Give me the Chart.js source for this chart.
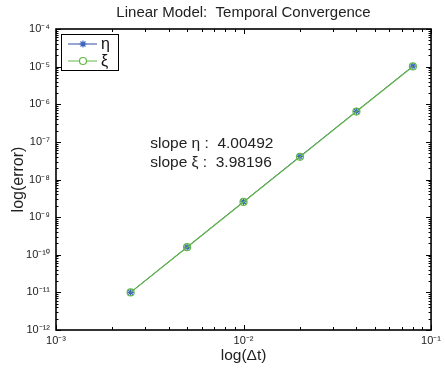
<!DOCTYPE html>
<html>
<head>
<meta charset="utf-8">
<script src="https://cdn.jsdelivr.net/npm/chart.js@4/dist/chart.umd.min.js"></script>
<style>
  html, body { margin: 0; padding: 0; background: #fff; }
  #wrap { width: 445px; height: 370px; }
</style>
</head>
<body>
<div id="wrap"><canvas id="chart" width="445" height="370"></canvas></div>
<script>
// Data
const timeSteps = [0.0025, 0.005, 0.01, 0.02, 0.04, 0.08];
const etaError = [1.0e-11, 1.6e-10, 2.56e-9, 4.1e-8, 6.5e-7, 1.03e-5];
const xiError = [1.0e-11, 1.59e-10, 2.53e-9, 4.0e-8, 6.4e-7, 1.01e-5];
const seriesNames = ['η', 'ξ'];
const slopeLabels = ['slope η :  4.00492', 'slope ξ :  3.98196'];
const chartTitle = 'Linear Model:  Temporal Convergence';
const xRange = [1e-3, 1e-1];
const yRange = [1e-12, 1e-4];

const BLUE = '#2f4f9f';
const GREEN = '#62b846';
const FONT = '"Liberation Sans", Arial, Helvetica, sans-serif';

const sup = { '-': '⁻', '0': '⁰', '1': '¹', '2': '²', '3': '³', '4': '⁴', '5': '⁵', '6': '⁶', '7': '⁷', '8': '⁸', '9': '⁹' };
function powLabel(v) {
  const e = Math.round(Math.log10(v));
  return '10' + String(e).split('').map(c => sup[c]).join('');
}

function decadeTicks(scale) {
  const ticks = [];
  for (let e = Math.round(Math.log10(scale.min)); e <= Math.round(Math.log10(scale.max)); e++) {
    ticks.push({ value: Math.pow(10, e) });
  }
  scale.ticks = ticks;
}

// MATLAB style box with inward ticks, plus title, legend and slope text
const matlabAxes = {
  id: 'matlabAxes',
  afterDatasetsDraw(chart) {
    const { ctx, chartArea: a, scales } = chart;
    const x = scales.x, y = scales.y;
    ctx.save();
    ctx.strokeStyle = '#000';
    ctx.lineWidth = 1;

    // ticks
    const xe0 = Math.round(Math.log10(x.min)), xe1 = Math.round(Math.log10(x.max));
    for (let e = xe0; e <= xe1; e++) {
      for (let m = 1; m <= 9; m++) {
        const v = m * Math.pow(10, e);
        if (v > x.max * 1.0001) break;
        const px = Math.round(x.getPixelForValue(v)) + 0.5;
        const len = m === 1 ? 5 : 3;
        ctx.beginPath();
        ctx.moveTo(px, a.bottom); ctx.lineTo(px, a.bottom - len);
        ctx.moveTo(px, a.top); ctx.lineTo(px, a.top + len);
        ctx.stroke();
      }
    }
    const ye0 = Math.round(Math.log10(y.min)), ye1 = Math.round(Math.log10(y.max));
    for (let e = ye0; e <= ye1; e++) {
      for (let m = 1; m <= 9; m++) {
        const v = m * Math.pow(10, e);
        if (v > y.max * 1.0001) break;
        const py = Math.round(y.getPixelForValue(v)) + 0.5;
        const len = m === 1 ? 5 : 2.5;
        ctx.beginPath();
        ctx.moveTo(a.left, py); ctx.lineTo(a.left + len, py);
        ctx.moveTo(a.right, py); ctx.lineTo(a.right - len, py);
        ctx.stroke();
      }
    }

    // box
    ctx.lineWidth = 1.6;
    ctx.strokeRect(a.left, a.top, a.right - a.left, a.bottom - a.top);

    // title, centred over the axes like MATLAB does
    ctx.fillStyle = '#222';
    ctx.font = '15px ' + FONT;
    ctx.textAlign = 'center';
    ctx.textBaseline = 'middle';
    ctx.fillText(chartTitle, (a.left + a.right) / 2, 13);

    // slope annotation
    ctx.font = '15.5px ' + FONT;
    ctx.textAlign = 'left';
    const tx = x.getPixelForValue(0.00318);
    const ty = y.getPixelForValue(Math.pow(10, -7.05));
    ctx.fillText(slopeLabels[0], tx, ty);
    ctx.fillText(slopeLabels[1], tx, ty + 19);

    // legend
    const lx = a.left + 5, ly = a.top + 5, lw = 57, lh = 36;
    ctx.fillStyle = '#fff';
    ctx.fillRect(lx, ly, lw, lh);
    ctx.lineWidth = 1;
    ctx.strokeStyle = '#000';
    ctx.strokeRect(lx + 0.5, ly + 0.5, lw, lh);
    chart.data.datasets.forEach((ds, i) => {
      const cy = ly + 10 + i * 17;
      ctx.strokeStyle = ds.borderColor;
      ctx.lineWidth = 1;
      ctx.beginPath();
      ctx.moveTo(lx + 7, cy); ctx.lineTo(lx + 36, cy);
      ctx.stroke();
      ctx.strokeStyle = ds.pointBorderColor || ds.borderColor;
      ctx.fillStyle = '#fff';
      ctx.lineWidth = ds.pointBorderWidth;
      Chart.helpers.drawPoint(ctx, {
        pointStyle: ds.pointStyle, radius: ds.pointRadius, borderWidth: ds.pointBorderWidth, rotation: 0
      }, lx + 22, cy);
      ctx.fillStyle = '#111';
      ctx.font = '16px ' + FONT;
      ctx.textAlign = 'left';
      ctx.fillText(ds.label, lx + 40, cy + 1);
    });
    ctx.restore();
  }
};

function drawChart() {
  const ctx = document.getElementById('chart').getContext('2d');
  new Chart(ctx, {
    type: 'line',
    data: {
      datasets: [
        {
          label: seriesNames[0],
          data: timeSteps.map((t, i) => ({ x: t, y: etaError[i] })),
          borderColor: BLUE,
          backgroundColor: BLUE,
          borderWidth: 1,
          pointStyle: 'star',
          pointRadius: 3.5,
          pointBorderWidth: 1.2,
          pointBorderColor: '#3a63c0',
          order: 1
        },
        {
          label: seriesNames[1],
          data: timeSteps.map((t, i) => ({ x: t, y: xiError[i] })),
          borderColor: GREEN,
          backgroundColor: 'rgba(0,0,0,0)',
          borderWidth: 1.2,
          pointStyle: 'circle',
          pointRadius: 3.5,
          pointBorderWidth: 1.2,
          order: 0
        }
      ]
    },
    options: {
      responsive: false,
      animation: false,
      layout: { padding: { left: 0, right: 9, top: 29, bottom: 0 } },
      plugins: {
        legend: { display: false },
        tooltip: { enabled: false },
        title: { display: false }
      },
      scales: {
        x: {
          type: 'logarithmic',
          min: xRange[0],
          max: xRange[1],
          afterBuildTicks: decadeTicks,
          afterFit: s => { s.height = 40; },
          grid: { display: false, drawTicks: false },
          border: { display: false },
          ticks: {
            autoSkip: false,
            maxRotation: 0,
            padding: 4,
            color: '#222',
            font: { family: FONT, size: 11 },
            callback: v => powLabel(v)
          },
          title: {
            display: true,
            text: 'log(Δt)',
            color: '#222',
            font: { family: FONT, size: 15.5 },
            padding: { top: 0, bottom: 5 }
          }
        },
        y: {
          type: 'logarithmic',
          min: yRange[0],
          max: yRange[1],
          afterBuildTicks: decadeTicks,
          afterFit: s => { s.width = 56; },
          grid: { display: false, drawTicks: false },
          border: { display: false },
          ticks: {
            autoSkip: false,
            padding: 6,
            color: '#222',
            font: { family: FONT, size: 11 },
            callback: v => powLabel(v)
          },
          title: {
            display: true,
            text: 'log(error)',
            color: '#222',
            font: { family: FONT, size: 16 },
            padding: { top: 9, bottom: 0 }
          }
        }
      }
    },
    plugins: [matlabAxes]
  });
}

drawChart();
</script>
</body>
</html>
